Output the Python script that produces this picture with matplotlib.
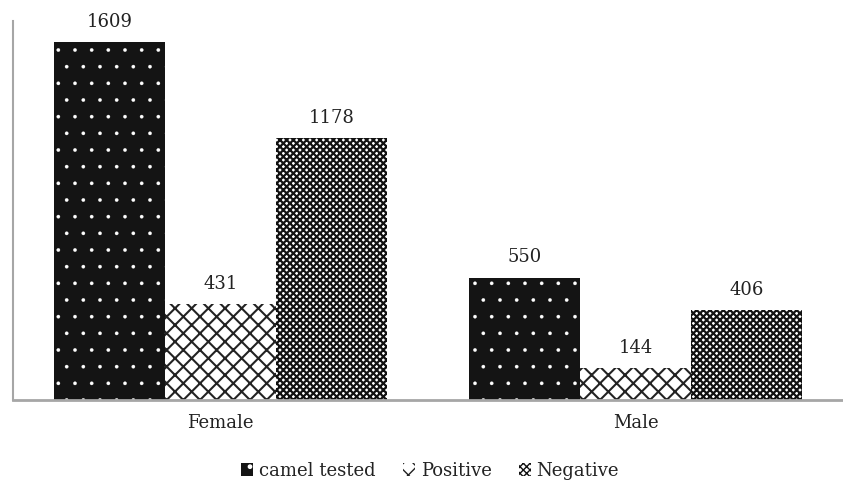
import matplotlib
matplotlib.use("Agg")
import matplotlib.pyplot as plt
import numpy as np

categories = ["Female", "Male"]
series_names = ["camel tested", "Positive", "Negative"]
camel_tested = [1609, 550]
positive = [431, 144]
negative = [1178, 406]

plt.rcParams['font.family'] = ['DejaVu Serif']

fig = plt.figure(figsize=(8.43, 4.84), dpi=100)
ax = fig.add_axes([13/843, 84/484, 830/843, 379/484])

x = np.arange(len(categories))
w = 0.267
styles = [
    dict(facecolor="#141414", edgecolor="white", hatch=".", linewidth=0),
    dict(facecolor="white", edgecolor="#222222", hatch="xx", linewidth=0),
    dict(facecolor="white", edgecolor="#111111", hatch="xxxxx", linewidth=0),
]
hatch_lw = [0.2, 1.5, 1.6]
data = [camel_tested, positive, negative]
for i, (vals, name, st) in enumerate(zip(data, series_names, styles)):
    with plt.rc_context({'hatch.linewidth': hatch_lw[i]}):
        bars = ax.bar(x + (i - 1) * w, vals, w, label=name, **st)
        for b in bars:
            try:
                b.set_hatch_linewidth(hatch_lw[i])
            except AttributeError:
                pass
    for b, v in zip(bars, vals):
        ax.annotate(str(v), (b.get_x() + b.get_width() / 2, v),
                    xytext=(0, 8), textcoords="offset points",
                    ha="center", va="bottom", fontsize=13, color="#222222")

ax.set_xlim(-0.5, 1.5)
ax.set_ylim(0, 1703)
ax.set_yticks([])
ax.set_xticks(x)
ax.set_xticklabels(categories, fontsize=13, color="#222222")
ax.tick_params(axis="x", length=0, pad=10)
for s in ["top", "right"]:
    ax.spines[s].set_visible(False)
ax.spines["left"].set_color("#a6a6a6")
ax.spines["bottom"].set_color("#a6a6a6")
ax.spines["left"].set_linewidth(1.5)
ax.spines["bottom"].set_linewidth(2)

leg = fig.legend(loc="lower center", bbox_to_anchor=(0.51, -0.025), ncol=3,
                 frameon=False, fontsize=13, handlelength=0.7, handleheight=0.7,
                 handletextpad=0.3, columnspacing=1.5)
for t in leg.get_texts():
    t.set_color("#222222")

fig.savefig("out.png", dpi=100)
